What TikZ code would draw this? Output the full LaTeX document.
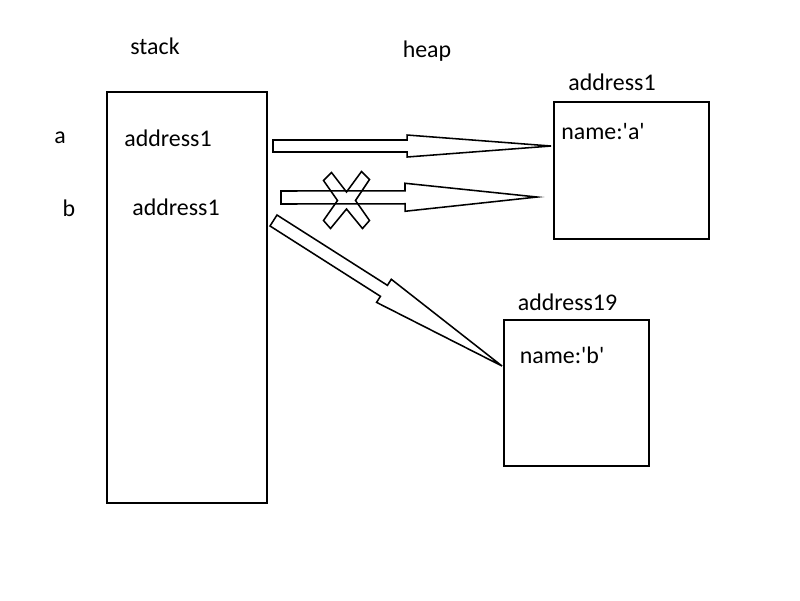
\documentclass[tikz,border=0pt]{standalone}
\usepackage{fontspec}
\setmainfont{Carlito}
\usetikzlibrary{calc,positioning}
\newlength\pxu
\setlength\pxu{0.025cm}
\tikzset{
  memtext/.style={font=\fontsize{17}{20}\selectfont,inner sep=0pt},
  membox/.style={draw,line width=1.4pt,inner sep=0pt},
  arrowline/.style={draw,line width=1.1pt,line join=miter},
}
% block arrow: start, tip, shaft half width, head half width, head length (px)
\newcommand{\blockarrow}[5]{%
  \coordinate (ba-b) at ($(#2)!#5\pxu!(#1)$);
  \draw[arrowline] ($(#1)!#3\pxu!90:(#2)$) -- ($(ba-b)!#3\pxu!-90:(#1)$)
    -- ($(ba-b)!#4\pxu!-90:(#1)$) -- (#2) -- ($(ba-b)!#4\pxu!90:(#1)$)
    -- ($(ba-b)!#3\pxu!90:(#1)$) -- ($(#1)!#3\pxu!-90:(#2)$) -- cycle;}

\begin{document}
\begin{tikzpicture}[x=1\pxu,y=-1\pxu]
  \useasboundingbox (0,0) rectangle (800,600);
  \node[membox,minimum width=160\pxu,minimum height=411\pxu] (stack) at (187,297.5) {};
  \node[membox,minimum width=155\pxu,minimum height=137\pxu] (obja) at (631.5,170.5) {};
  \node[membox,minimum width=145\pxu,minimum height=146\pxu] (objb) at (576.5,393) {};
  \node[memtext] (stacklbl) at (155,46) {stack};
  \node[memtext] (heaplbl) at (427,51) {heap};
  \node[memtext] (addra) at (612,82) {address1};
  \node[memtext] (addrb) at (567.5,302) {address19};
  \node[memtext] (vara) at (60,138) {a};
  \node[memtext] (varb) at (69,208) {b};
  \node[memtext] (refa) at (168,138) {address1};
  \node[memtext] (refb) at (176,207) {address1};
  \node[memtext] (namea) at (603,132) {name:\textquotesingle a\textquotesingle};
  \node[memtext] (nameb) at (562,355) {name:\textquotesingle b\textquotesingle};
  \coordinate (sa) at (273,146);
  \coordinate (sb) at (281,197.5);
  \coordinate (sc) at (273.5,220.5);
  \coordinate (ta) at ($(obja.north west)+(-2,45)$);
  \coordinate (tb) at ($(obja.north west)+(-16,96)$);
  \coordinate (tc) at ($(objb.north west)+(-1,47)$);
  \blockarrow{sa}{ta}{6}{11}{144}
  \blockarrow{sb}{tb}{6.5}{14}{132}
  \blockarrow{sc}{tc}{6.5}{13.7}{140}
  \coordinate (cross) at (346.5,200.5);
  \draw[arrowline] ($(cross)+(0,-8.5)$) -- ++(15,-20.5) -- ++(8,8) -- ($(cross)+(9,0)$)
    -- ++(14,20) -- ++(-7,8) -- ($(cross)+(0,8.5)$) -- ++(-16,19.5) -- ++(-7,-8)
    -- ($(cross)+(-9,0)$) -- ++(-14,-20) -- ++(8,-8) -- cycle;
\end{tikzpicture}
\end{document}
